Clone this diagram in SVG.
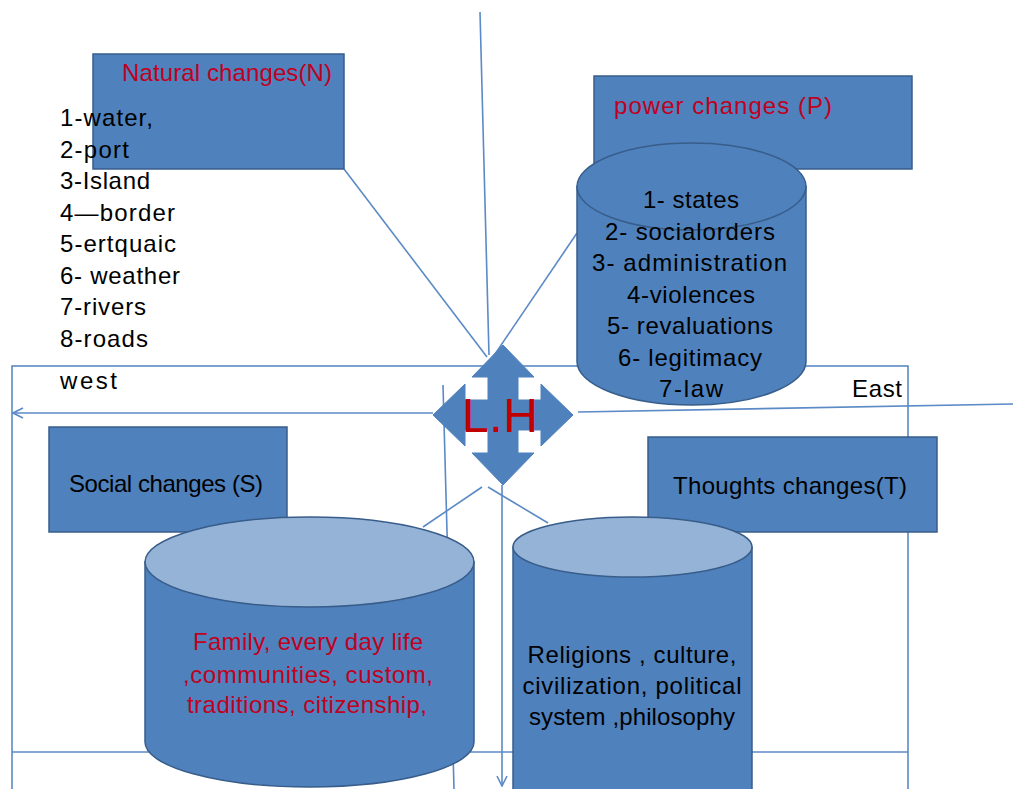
<svg xmlns="http://www.w3.org/2000/svg" width="1013" height="789" viewBox="0 0 1013 789">
<style>
.box{fill:#4F81BD;stroke:#385D8A;stroke-width:1.5}
.cyl{fill:#4F81BD;stroke:#385D8A;stroke-width:1.5}
.top{fill:#95B3D7;stroke:#385D8A;stroke-width:1.5}
.ln{fill:none;stroke:#5B8AC6;stroke-width:1.6}
.t{font-family:"Liberation Sans",Arial,sans-serif;font-size:24px;fill:#000}
.r{fill:#C00020}
.c{text-anchor:middle}
</style>
<defs>
<marker id="arr" viewBox="0 0 12 12" refX="11" refY="6" markerWidth="12" markerHeight="12" markerUnits="userSpaceOnUse" orient="auto">
<path d="M1,1 L11,6 L1,11" fill="none" stroke="#5B8AC6" stroke-width="1.6"/>
</marker>
</defs>
<rect width="1013" height="789" fill="#fff"/>
<g id="connectors">
<rect x="12" y="366" width="896" height="440" class="ln"/>
<line x1="12" y1="752" x2="908" y2="752" class="ln"/>
<line x1="480" y1="12" x2="489" y2="355" class="ln"/>
<line x1="344" y1="169" x2="487" y2="357" class="ln"/>
<line x1="577" y1="233" x2="493" y2="357" class="ln"/>
<line x1="433" y1="413" x2="13" y2="413" class="ln" marker-end="url(#arr)"/>
<line x1="578" y1="412" x2="1013" y2="404" class="ln"/>
<line x1="502" y1="485" x2="502" y2="786" class="ln" marker-end="url(#arr)"/>
<line x1="443" y1="385" x2="454" y2="789" class="ln"/>
<line x1="482" y1="487" x2="423" y2="527" class="ln"/>
<line x1="488" y1="487" x2="548" y2="523" class="ln"/>
</g>
<g id="natural">
<rect x="93" y="54" width="251" height="115" class="box"/>
<text x="122" y="81" class="t r" textLength="210">Natural changes(N)</text>
</g>
<g id="natural-list">
<text x="60" y="126" class="t" textLength="93">1-water,</text>
<text x="60" y="157.5" class="t" textLength="69">2-port</text>
<text x="60" y="189" class="t" textLength="90">3-Island</text>
<text x="60" y="220.5" class="t" textLength="115">4—border</text>
<text x="60" y="252" class="t" textLength="116">5-ertquaic</text>
<text x="60" y="283.5" class="t" textLength="120">6- weather</text>
<text x="60" y="315" class="t" textLength="86">7-rivers</text>
<text x="60" y="346.5" class="t" textLength="88">8-roads</text>
</g>
<g id="west"><text x="60" y="389" class="t" textLength="57">west</text></g>
<g id="east"><text x="852" y="397" class="t" textLength="50">East</text></g>
<g id="power">
<rect x="594" y="76" width="318" height="93" class="box"/>
<text x="614" y="114" class="t r" textLength="218">power  changes  (P)</text>
</g>
<g id="power-cylinder">
<path d="M577,186.5 L577,361.5 A114.5,43.5 0 0 0 806,361.5 L806,186.5 Z" class="cyl"/>
<ellipse cx="691.5" cy="186.5" rx="114.5" ry="43.5" class="cyl"/>
<text x="691" y="208" class="t c" textLength="96">1- states</text>
<text x="690" y="239.5" class="t c" textLength="170">2- socialorders</text>
<text x="689.5" y="271" class="t c" textLength="195">3-  administration</text>
<text x="691" y="302.5" class="t c" textLength="128">4-violences</text>
<text x="690" y="334" class="t c" textLength="166">5- revaluations</text>
<text x="690" y="365.5" class="t c" textLength="144">6- legitimacy</text>
<text x="691" y="397" class="t c" textLength="64">7-law</text>
</g>
<g id="social">
<rect x="49" y="427" width="238" height="105" class="box"/>
<text x="69" y="492" class="t" textLength="194">Social changes (S)</text>
</g>
<g id="social-cylinder">
<path d="M145,562 L145,742 A164.5,45 0 0 0 474,742 L474,562 Z" class="cyl"/>
<ellipse cx="309.5" cy="562" rx="164.5" ry="45" class="top"/>
<text x="308" y="650" class="t r c" textLength="230">Family, every day life</text>
<text x="308" y="683" class="t r c" textLength="250">,communities, custom,</text>
<text x="307" y="713" class="t r c" textLength="240">traditions, citizenship,</text>
</g>
<g id="thoughts">
<rect x="648" y="437" width="289" height="95" class="box"/>
<text x="673" y="494" class="t" textLength="234">Thoughts changes(T)</text>
</g>
<g id="thoughts-cylinder">
<path d="M513,547 L513,830 L752,830 L752,547 Z" class="cyl"/>
<ellipse cx="632.5" cy="547" rx="119.5" ry="30" class="top"/>
<text x="632" y="663" class="t c" textLength="209">Religions , culture,</text>
<text x="632" y="694" class="t c" textLength="219">civilization, political</text>
<text x="632" y="725" class="t c" textLength="206">system ,philosophy</text>
</g>
<g id="lh">
<polygon points="503,345 534,377 518,377 518,400 541,400 541,384 573,415 541,446 541,430 518,430 518,453 534,453 503,485 472,453 488,453 488,430 465,430 465,446 433,415 465,384 465,400 488,400 488,377 472,377" fill="#4F81BD" stroke="#4F81BD" stroke-width="1"/>
<text x="500" y="432" font-family="Liberation Sans, Arial, sans-serif" font-size="48" fill="#C00000" text-anchor="middle" textLength="76">L.H</text>
</g>
</svg>
